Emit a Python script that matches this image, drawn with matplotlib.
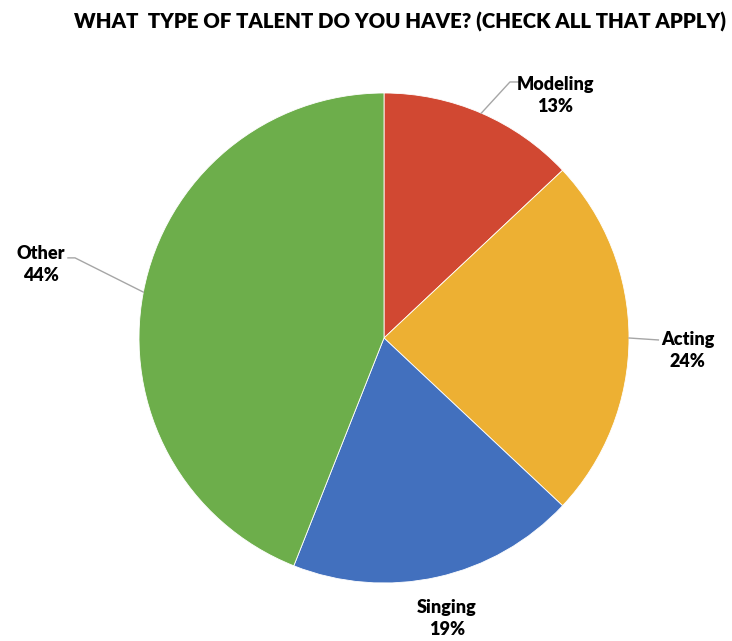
import numpy as np
import matplotlib.pyplot as plt

# survey results
labels = ['Modeling', 'Acting', 'Singing', 'Other']
shares = [13, 24, 19, 44]
colors = ['#D14832', '#EDB033', '#4270BE', '#6DAE4B']

# label text centres and leader points, in pie units (radius = 1)
text_pos = [(0.700, 0.990), (1.240, -0.050), (0.257, -1.145), (-1.400, 0.300)]
leaders = [
    [(0.514, 1.045), (0.555, 1.045)],
    [(1.120, -0.008)],
    None,
    [(-1.261, 0.327), (-1.29, 0.327)],
]

W, H = 732, 641
fig = plt.figure(figsize=(W / 100, H / 100), dpi=100)
cx, cy, r = 384, 338, 245
ax = fig.add_axes([(cx - r) / W, (H - cy - r) / H, 2 * r / W, 2 * r / H])

wedges, _ = ax.pie(shares, colors=colors, startangle=90, counterclock=False,
                   radius=1, wedgeprops=dict(linewidth=0.6, edgecolor='white'))
ax.set_xlim(-1, 1)
ax.set_ylim(-1, 1)
ax.set_aspect('equal')
ax.axis('off')

for w, lab, val, tp, ld in zip(wedges, labels, shares, text_pos, leaders):
    ang = np.deg2rad((w.theta1 + w.theta2) / 2)
    if ld:
        xs = [np.cos(ang)] + [p[0] for p in ld]
        ys = [np.sin(ang)] + [p[1] for p in ld]
        ax.plot(xs, ys, color='#A6A6A6', lw=1, clip_on=False)
    ax.text(tp[0], tp[1], f'{lab}\n{val}%', ha='center', va='center',
            fontsize=13, fontweight='heavy', linespacing=1.35,
            family=['Lato', 'DejaVu Sans'], clip_on=False)

fig.text(400 / W, 1 - 22 / H, 'WHAT  TYPE OF TALENT DO YOU HAVE? (CHECK ALL THAT APPLY)',
         ha='center', va='center', fontsize=14.7, fontweight='heavy',
         family=['Lato', 'DejaVu Sans'])

fig.savefig('out.png', dpi=100, facecolor='white')
